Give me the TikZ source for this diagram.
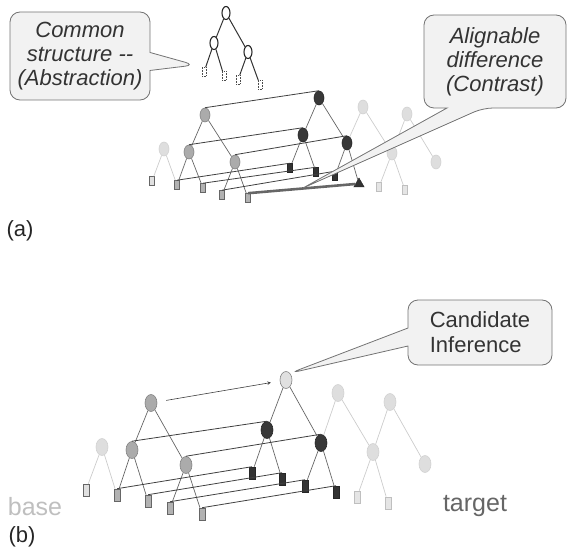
\documentclass[tikz,border=0pt]{standalone}
\usepackage{fontspec}
\setmainfont{Liberation Sans}
\usetikzlibrary{shapes.geometric,shapes.callouts}

\begin{document}
\begin{tikzpicture}[x=1pt, y=-1pt,
  bnode/.style={ellipse, draw=black!50, fill=black!33, line width=0.6pt,
                inner sep=0pt, minimum width=10pt, minimum height=14pt},
  tnode/.style={bnode, draw=black!85, fill=black!78},
  fnode/.style={bnode, draw=black!18, fill=black!13},
  cnode/.style={bnode, draw=black!50, fill=black!12},
  anode/.style={bnode, draw=black!85, fill=white, line width=1.1pt,
                minimum width=8pt, minimum height=13pt},
  bleaf/.style={rectangle, draw=black!60, fill=black!30, line width=0.6pt,
                inner sep=0pt, minimum width=5pt, minimum height=9pt},
  tleaf/.style={bleaf, draw=black!85, fill=black!80},
  fleaf/.style={bleaf, draw=black!25, fill=black!10},
  aleaf/.style={bleaf, draw=black!70, fill=white, densely dotted,
                minimum width=4pt, minimum height=9pt},
  big/.style={minimum width=12pt, minimum height=17pt},
  tall/.style={minimum width=6pt, minimum height=12pt},
  branch/.style={draw=black!60, line width=0.7pt},
  fbranch/.style={draw=black!20, line width=0.7pt},
  abranch/.style={draw=black!80, line width=1pt},
  mapline/.style={draw=black!75, line width=0.8pt},
  bubbleline/.style={rounded corners=10pt, draw=black!55, fill=black!5, line width=0.8pt},
  bubtext/.style={align=center, inner sep=0pt, text=black!80,
                  font=\fontsize{22}{24}\selectfont\itshape},
  bubble/.style={rectangle callout, bubbleline, bubtext},
  lbl/.style={font=\fontsize{22}{26}\selectfont, text=black!85},
]
\useasboundingbox (0,0) rectangle (567,556);

% ---------------- (a) ----------------
% abstraction
\node[anode] (an0) at (226,13) {};
\node[anode] (an1) at (214,43) {};
\node[anode] (an2) at (248,52) {};
\node[aleaf] (al1) at (204,72) {};
\node[aleaf] (al2) at (224,76) {};
\node[aleaf] (al3) at (238,80) {};
\node[aleaf] (al4) at (260,85) {};
\foreach \p/\c in {an0/an1, an0/an2, an1/al1, an1/al2, an2/al3, an2/al4}
  \draw[abranch] (\p) -- (\c);

% faded fragments
\node[fnode] (f0) at (164,149) {};
\node[bleaf, fill=black!12] (fl) at (152,181) {};
\node[fnode] (g0) at (363,107) {};
\node[fnode] (g1) at (407,114) {};
\node[fnode] (gm) at (392,153) {};
\node[fnode] (gr) at (436,162) {};
\node[fleaf] (gl1) at (379,187) {};
\node[fleaf] (gl2) at (405,190) {};

% base
\node[bnode] (b0) at (205,115) {};
\node[bnode] (b1) at (189,152) {};
\node[bnode] (b2) at (235,162) {};
\node[bleaf] (bl1) at (177,185) {};
\node[bleaf] (bl2) at (203,188) {};
\node[bleaf] (bl3) at (222,195) {};
\node[bleaf] (bl4) at (248,198) {};

% target
\node[tnode] (t0) at (319,98) {};
\node[tnode] (t1) at (303,135) {};
\node[tnode] (t2) at (347,143) {};
\node[tleaf] (tl1) at (290,168) {};
\node[tleaf] (tl2) at (316,172) {};
\node[tleaf] (tl3) at (335,176) {};
\node[regular polygon, regular polygon sides=3, draw=black!85, fill=black!80,
      inner sep=0pt, minimum size=12pt] (tl4) at (359,184) {};

\foreach \p/\c in {f0/fl, f0/bl1, g0/t2, g0/gm, g1/gm, g1/gr, gm/gl1, gm/gl2}
  \draw[fbranch] (\p) -- (\c);
\foreach \p/\c in {b0/b1, b0/b2, b1/bl1, b1/bl2, b2/bl3, b2/bl4,
                   t0/t1, t0/t2, t1/tl1, t1/tl2, t2/tl3, t2/tl4}
  \draw[branch] (\p) -- (\c);
\foreach \s/\t in {b0/t0, b1/t1, b2/t2, bl1/tl1, bl2/tl2, bl3/tl3}
  \draw[mapline] (\s.north) -- (\t.north);
\draw[mapline, line width=2.6pt, black!60] (bl4.north) -- (tl4.west);

\coordinate (ptA) at (195,65);
\coordinate (ptB) at (303,188);
\node[bubble, minimum width=140pt, minimum height=88pt,
      callout absolute pointer={(ptA)}, callout pointer width=18pt]
  (abst) at (80,56) {Common\\structure -{}-\\(Abstraction)};

% contrast bubble, tail from its lower edge
\draw[bubbleline] (424,15) -- (566,15) -- (566,108) -- (483,108) [sharp corners]
  -- (ptB) -- (447,108) [rounded corners=10pt] -- (424,108) -- cycle;
\node[bubtext] (contr) at (495,61.5) {Alignable\\difference\\(Contrast)};

\node[lbl] (la) at (20,231) {(a)};

% ---------------- (b) ----------------
\node[fnode, big] (h0) at (102,447) {};
\node[bleaf, tall, fill=black!12] (hl) at (86,490) {};
\node[fnode, big] (k0) at (338,393) {};
\node[fnode, big] (k1) at (390,402) {};
\node[fnode, big] (km) at (373,452) {};
\node[fnode, big] (kr) at (425,464) {};
\node[fleaf, tall] (kl1) at (357,497) {};
\node[fleaf, tall] (kl2) at (388,503) {};

% base
\node[bnode, big] (c0) at (151,403) {};
\node[bnode, big] (c1) at (132,450) {};
\node[bnode, big] (c2) at (186,465) {};
\node[bleaf, tall] (cl1) at (117,495) {};
\node[bleaf, tall] (cl2) at (148,501) {};
\node[bleaf, tall] (cl3) at (170,508) {};
\node[bleaf, tall] (cl4) at (202,514) {};

% target
\node[cnode, big] (d0) at (286,380) {};
\node[tnode, big] (d1) at (267,430) {};
\node[tnode, big] (d2) at (321,443) {};
\node[tleaf, tall] (dl1) at (252,473) {};
\node[tleaf, tall] (dl2) at (282,479) {};
\node[tleaf, tall] (dl3) at (305,486) {};
\node[tleaf, tall] (dl4) at (336,492) {};

\foreach \p/\c in {h0/hl, h0/cl1, k0/d2, k0/km, k1/km, k1/kr, km/kl1, km/kl2}
  \draw[fbranch] (\p) -- (\c);
\foreach \p/\c in {c0/c1, c0/c2, c1/cl1, c1/cl2, c2/cl3, c2/cl4,
                   d0/d1, d0/d2, d1/dl1, d1/dl2, d2/dl3, d2/dl4}
  \draw[branch] (\p) -- (\c);
\foreach \s/\t in {c1/d1, c2/d2, cl1/dl1, cl2/dl2, cl3/dl3, cl4/dl4}
  \draw[mapline] (\s.north) -- (\t.north);
\draw[mapline, line width=0.6pt, ->, >=stealth, shorten <=9pt, shorten >=9pt]
  (c0) -- (d0);

\node[bubble, font=\fontsize{22}{25}\selectfont, align=left,
      minimum width=144pt, minimum height=65pt,
      callout absolute pointer={(d0.60)}, callout pointer width=18pt]
  (cand) at (480,332.5) {Candidate\\Inference};

\node[lbl, font=\fontsize{25}{30}\selectfont, text=black!25] (lbase) at (35,507) {base};
\node[lbl, font=\fontsize{25}{30}\selectfont, text=black!60] (ltarget) at (475,506) {target};
\node[lbl] (lb) at (22,537) {(b)};

\end{tikzpicture}
\end{document}
